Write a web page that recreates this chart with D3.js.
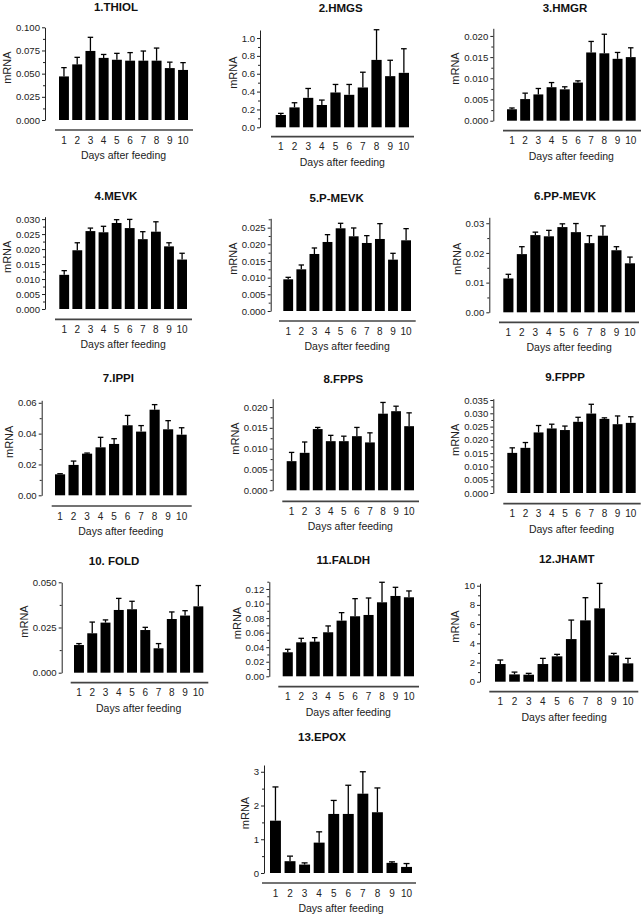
<!DOCTYPE html>
<html>
<head>
<meta charset="utf-8">
<script src="https://cdn.jsdelivr.net/npm/d3@7"></script>
<style>
  html, body { margin: 0; padding: 0; background: #fff; }
  svg { display: block; font-family: "Liberation Sans", Arial, sans-serif; }
</style>
</head>
<body>
<svg id="chart" width="643" height="918"></svg>
<script>
// ---------------- DATA ----------------
const days = ["1","2","3","4","5","6","7","8","9","10"];
const titles = ["1.THIOL","2.HMGS","3.HMGR","4.MEVK","5.P-MEVK","6.PP-MEVK","7.IPPI","8.FPPS","9.FPPP","10. FOLD","11.FALDH","12.JHAMT","13.EPOX"];
const xTitle = "Days after feeding";
const yTitle = "mRNA";

const thiolMean = [0.047,0.060,0.0745,0.067,0.065,0.064,0.064,0.064,0.056,0.054];
const thiolSem  = [0.0095,0.0076,0.0147,0.0037,0.0069,0.0087,0.0104,0.0136,0.0064,0.0079];
const hmgsMean  = [0.138,0.223,0.33,0.25,0.39,0.364,0.446,0.755,0.573,0.61];
const hmgsSem   = [0.018,0.052,0.105,0.055,0.09,0.116,0.171,0.338,0.178,0.27];
const hmgrMean  = [0.0027,0.0051,0.0062,0.0079,0.0074,0.0090,0.0161,0.0159,0.0146,0.0150];
const hmgrSem   = [0.0003,0.0014,0.0014,0.0011,0.0006,0.0004,0.0026,0.0045,0.0015,0.0022];
const mevkMean  = [0.0114,0.0196,0.0260,0.0256,0.0287,0.0270,0.0233,0.0258,0.0209,0.0165];
const mevkSem   = [0.0014,0.0025,0.0010,0.0020,0.0011,0.0029,0.0025,0.0033,0.0012,0.0021];
const pmevkMean = [0.0095,0.0125,0.0171,0.0207,0.0248,0.0224,0.0204,0.0216,0.0154,0.0212];
const pmevkSem  = [0.0006,0.0013,0.0018,0.0022,0.0015,0.0025,0.0022,0.0046,0.0019,0.0035];
const ppmevkMean= [0.0114,0.0196,0.0260,0.0256,0.0287,0.0270,0.0233,0.0258,0.0209,0.0165];
const ppmevkSem = [0.0014,0.0025,0.0010,0.0020,0.0011,0.0029,0.0025,0.0033,0.0012,0.0021];
const ippiMean  = [0.0136,0.0197,0.0270,0.0311,0.0333,0.0454,0.0413,0.0555,0.0428,0.0393];
const ippiSem   = [0.0004,0.0025,0.0004,0.0065,0.0034,0.0064,0.0039,0.0033,0.0056,0.0045];
const fppsMean  = [0.0070,0.0090,0.0147,0.0118,0.0118,0.0130,0.0115,0.0184,0.0190,0.0154];
const fppsSem   = [0.0021,0.0026,0.0004,0.0014,0.0012,0.0021,0.0023,0.0027,0.0012,0.0032];
const fpppMean  = [0.0151,0.0170,0.0228,0.0243,0.0237,0.0268,0.0299,0.0279,0.0259,0.0264];
const fpppSem   = [0.0019,0.0020,0.0026,0.0016,0.0015,0.0017,0.0035,0.0004,0.0031,0.0023];
const foldMean  = [0.0153,0.0218,0.0277,0.0347,0.0351,0.0236,0.0135,0.0297,0.0316,0.0367];
const foldSem   = [0.0008,0.0062,0.0015,0.0064,0.0044,0.0015,0.0026,0.0039,0.0027,0.0115];
const faldhMean = [0.033,0.0467,0.0476,0.0605,0.0765,0.0825,0.0843,0.1017,0.1104,0.1086];
const faldhSem  = [0.0041,0.0055,0.0055,0.0087,0.011,0.0242,0.0233,0.0275,0.0119,0.0087];
const jhamtMean = [1.84,0.76,0.73,1.84,2.64,4.44,6.39,7.64,2.74,1.91];
const jhamtSem  = [0.42,0.24,0.14,0.59,0.21,1.98,2.36,2.6,0.21,0.52];
const epoxMean  = [1.55,0.35,0.25,0.90,1.75,1.75,2.35,1.80,0.30,0.18];
const epoxSem   = [1.00,0.15,0.05,0.32,0.40,0.85,0.65,0.72,0.03,0.10];

const means = [thiolMean,hmgsMean,hmgrMean,mevkMean,pmevkMean,ppmevkMean,ippiMean,fppsMean,fpppMean,foldMean,faldhMean,jhamtMean,epoxMean];
const sems  = [thiolSem,hmgsSem,hmgrSem,mevkSem,pmevkSem,ppmevkSem,ippiSem,fppsSem,fpppSem,foldSem,faldhSem,jhamtSem,epoxSem];

const yTicks = [
  ["0.000","0.025","0.050","0.075","0.100"],
  ["0.0","0.2","0.4","0.6","0.8","1.0"],
  ["0.000","0.005","0.010","0.015","0.020"],
  ["0.000","0.005","0.010","0.015","0.020","0.025","0.030"],
  ["0.000","0.005","0.010","0.015","0.020","0.025"],
  ["0.00","0.01","0.02","0.03"],
  ["0.00","0.02","0.04","0.06"],
  ["0.000","0.005","0.010","0.015","0.020"],
  ["0.000","0.005","0.010","0.015","0.020","0.025","0.030","0.035"],
  ["0.000","0.025","0.050"],
  ["0.00","0.02","0.04","0.06","0.08","0.10","0.12"],
  ["0","2","4","6","8","10"],
  ["0","1","2","3"]
];
const yAxisMax = [0.100,1.09,0.0218,0.0308,0.0278,0.032,0.0616,0.022,0.0355,0.050,0.13,10.25,3.2];

// ---------------- LAYOUT (pixels) ----------------
const layout = [
  {ax:45,   y0:120,   yTop:27.3,  bL:59,    bR:188,   xy:130,   xL:55,    xR:193,   tx:116,   ty:10.7},
  {ax:260,  y0:127.3, yTop:30,    bL:275.7, bR:409,   xy:136.7, xL:271,   xR:414,   tx:340.7, ty:11.7},
  {ax:493.3,y0:120.7, yTop:28.3,  bL:507,   bR:635.7, xy:130.7, xL:503,   xR:641,   tx:565,   ty:11.7},
  {ax:45,   y0:309,   yTop:216.7, bL:59.3,  bR:187,   xy:319.3, xL:55,    xR:192,   tx:116,   ty:200},
  {ax:270.7,y0:311,   yTop:218.3, bL:283.3, bR:411,   xy:321,   xL:279,   xR:415.7, tx:336.7, ty:201.7},
  {ax:489.3,y0:312.3, yTop:217.3, bL:503.3, bR:635,   xy:322.3, xL:499,   xR:639,   tx:565,   ty:200},
  {ax:41.7, y0:495.3, yTop:400.3, bL:55,    bR:186.7, xy:506,   xL:51.7,  xR:191.7, tx:118.3, ty:382},
  {ax:272.7,y0:490.3, yTop:398.7, bL:286.7, bR:414,   xy:501.3, xL:282.3, xR:419,   tx:343.3, ty:382.7},
  {ax:493.3,y0:493,   yTop:398.7, bL:507.3, bR:635.7, xy:503.7, xL:503.3, xR:640.7, tx:565,   ty:381.3},
  {ax:61.7, y0:672.7, yTop:582.3, bL:74,    bR:203.3, xy:682.7, xL:70.7,  xR:208.3, tx:114,   ty:565},
  {ax:269.3,y0:676.3, yTop:581.7, bL:282.7, bR:414,   xy:686.7, xL:278.3, xR:419,   tx:343.3, ty:564.3},
  {ax:480,  y0:681.7, yTop:583.3, bL:495,   bR:633.3, xy:691.7, xL:489.3, xR:638.3, tx:566.7, ty:562.7},
  {ax:264,  y0:873,   yTop:765,   bL:270,   bR:412,   xy:883,   xL:262,   xR:416,   tx:322,   ty:741}
];

// ---------------- DRAW ----------------
const svg = d3.select("#chart");
svg.append("rect").attr("width",643).attr("height",918).attr("fill","#fff");

titles.forEach((title, i) => {
  const L = layout[i];
  const g = svg.append("g");
  const tickVals = yTicks[i].map(Number);
  const y = d3.scaleLinear().domain([0, yAxisMax[i]]).range([L.y0, L.yTop]);
  const x = d3.scaleBand().domain(days).range([L.bL, L.bR]).paddingInner(0.25).paddingOuter(0);

  g.append("text").attr("x", L.tx).attr("y", L.ty)
    .attr("text-anchor","middle").attr("font-size","11.5px").attr("font-weight","bold")
    .attr("fill","#111").text(title);

  const step = tickVals[1] - tickVals[0];
  const minors = [];
  for (let k = 0; k < tickVals.length; k++) {
    const v = tickVals[k] + step/2;
    if (v <= yAxisMax[i] + 1e-9) minors.push(v);
  }
  const minorG = g.append("g").attr("transform",`translate(${L.ax},0)`)
    .call(d3.axisLeft(y).tickValues(minors).tickSize(2).tickFormat(""));
  minorG.select(".domain").remove();
  minorG.selectAll("line").attr("stroke","#222");

  const yAxisG = g.append("g").attr("transform",`translate(${L.ax},0)`)
    .call(d3.axisLeft(y).tickValues(tickVals).tickSize(3).tickSizeOuter(0).tickPadding(2)
      .tickFormat((d, k) => yTicks[i][k]));
  yAxisG.select(".domain").attr("stroke","#222").attr("stroke-width",1);
  yAxisG.selectAll(".tick line").attr("stroke","#222");
  yAxisG.selectAll("text").attr("font-size","9.6px").attr("fill","#222")
    .attr("font-family","'Liberation Sans', Arial, sans-serif");

  const bb = yAxisG.node().getBBox();
  const yMid = (L.y0 + L.yTop) / 2 - 6;
  g.append("text")
    .attr("transform",`translate(${L.ax + bb.x - 5},${yMid}) rotate(-90)`)
    .attr("text-anchor","middle").attr("font-size","11px").attr("fill","#222")
    .text(yTitle);

  const m = means[i], s = sems[i];
  g.append("g").selectAll("rect").data(days).join("rect")
    .attr("x", d => x(d))
    .attr("width", x.bandwidth())
    .attr("y", (d,k) => y(m[k]))
    .attr("height", (d,k) => y(0) - y(m[k]))
    .attr("fill","#000");

  const eg = g.append("g").attr("stroke","#000").attr("stroke-width",1.3);
  const capW = x.bandwidth() * 0.55;
  days.forEach((d,k) => {
    const cx = x(d) + x.bandwidth()/2;
    eg.append("line").attr("x1",cx).attr("x2",cx).attr("y1",y(m[k])).attr("y2",y(m[k]+s[k]));
    eg.append("line").attr("x1",cx-capW/2).attr("x2",cx+capW/2).attr("y1",y(m[k]+s[k])).attr("y2",y(m[k]+s[k]));
  });

  g.append("line").attr("x1",L.xL).attr("x2",L.xR).attr("y1",L.xy).attr("y2",L.xy)
    .attr("stroke","#444").attr("stroke-width",1.7);
  const xAxisG = g.append("g").attr("transform",`translate(0,${L.xy})`)
    .call(d3.axisBottom(x).tickSize(0).tickPadding(6.5));
  xAxisG.select(".domain").remove();
  xAxisG.selectAll("text").attr("font-size","10px").attr("fill","#222")
    .attr("font-family","'Liberation Sans', Arial, sans-serif");

  g.append("text").attr("x",(L.bL+L.bR)/2).attr("y",L.xy + 29)
    .attr("text-anchor","middle").attr("font-size","10.5px").attr("fill","#222")
    .text(xTitle);
});
</script>
</body>
</html>
